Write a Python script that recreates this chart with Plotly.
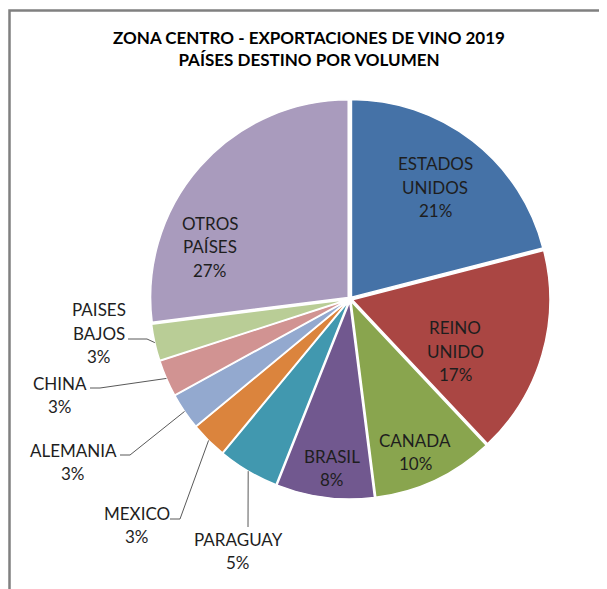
import math
import plotly.graph_objects as go

# ---------------- data ----------------
countries = ["ESTADOS UNIDOS", "REINO UNIDO", "CANADA", "BRASIL", "PARAGUAY",
             "MEXICO", "ALEMANIA", "CHINA", "PAISES BAJOS", "OTROS PAÍSES"]
label_lines = [["ESTADOS", "UNIDOS"], ["REINO", "UNIDO"], ["CANADA"], ["BRASIL"],
               ["PARAGUAY"], ["MEXICO"], ["ALEMANIA"], ["CHINA"],
               ["PAISES", "BAJOS"], ["OTROS", "PAÍSES"]]
shares = [21, 17, 10, 8, 5, 3, 3, 3, 3, 27]

# ---------------- style ----------------
colors = ["#4572A7", "#AA4643", "#89A54E", "#71588F", "#4198AF",
          "#DB843D", "#93A9CF", "#D19392", "#B9CD96", "#A99BBD"]
W, H = 607, 589
OFF = 8  # page body margin offset (screen px -> figure px)
PIE_BOX = (150, 99, 550, 499)  # screen px: left, top, right, bottom
PULL = 0.012

# label block centres (screen px) and leader elbows (screen px) - layout only
label_center = [(435, 187), (455, 351), (415, 452), (332, 468), (238, 551),
                (137, 525), (73, 462), (60, 395), (99, 333), (210, 247)]
leader_pts = {4: [(248, 527)],
              5: [(170, 519), (180, 519)],
              6: [(120, 455), (130, 455)],
              7: [(90, 388), (100, 388)],
              8: [(128, 339), (147, 339)]}
LINE_H = 23.5
LABEL_FONT = dict(family="Lato, 'Open Sans', sans-serif", size=17, color="#1e1e1e")


def px(x, y):
    return (x - OFF) / W, 1 - (y - OFF) / H


dx0, dy0 = px(PIE_BOX[0], PIE_BOX[3])
dx1, dy1 = px(PIE_BOX[2], PIE_BOX[1])

fig = go.Figure(go.Pie(
    labels=countries, values=shares, sort=False, direction="clockwise",
    rotation=0, marker=dict(colors=colors, line=dict(color="white", width=1.5)),
    pull=[PULL] * len(shares), textinfo="none", hoverinfo="label+percent",
    showlegend=False,
    domain=dict(x=[dx0, dx1], y=[dy0, dy1]),
))

annotations = []
shapes = []

# labels: one annotation per text line
total = sum(shares)
for i, (lines, v) in enumerate(zip(label_lines, shares)):
    texts = lines + [f"{round(100 * v / total)}%"]
    cx, cy = label_center[i]
    n = len(texts)
    for k, t in enumerate(texts):
        yk = cy + (k - (n - 1) / 2) * LINE_H
        xp, yp = px(cx, yk)
        annotations.append(dict(x=xp, y=yp, xref="paper", yref="paper", text=t,
                                showarrow=False, font=LABEL_FONT,
                                xanchor="center", yanchor="middle"))

# leader lines from slice edge (computed from data) to label
CX = (PIE_BOX[0] + PIE_BOX[2]) / 2
CY = (PIE_BOX[1] + PIE_BOX[3]) / 2
R = (PIE_BOX[2] - PIE_BOX[0]) / 2
cum = 0
for i, v in enumerate(shares):
    mid = (cum + v / 2) / total * 2 * math.pi
    cum += v
    if i not in leader_pts:
        continue
    ex, ey = CX + R * math.sin(mid), CY - R * math.cos(mid)
    pts = leader_pts[i] + [(ex, ey)]
    path = "M " + " L ".join(f"{px(x, y)[0]},{px(x, y)[1]}" for x, y in pts)
    shapes.append(dict(type="path", xref="paper", yref="paper", path=path,
                       line=dict(color="#595959", width=1)))

# chart area frame (cropped on right / bottom): top and left edges
fx0, fy1 = px(9.5, 10.5)
shapes.append(dict(type="path", xref="paper", yref="paper",
                   path=f"M {fx0},0 L {fx0},{fy1} L 1,{fy1}",
                   line=dict(color="#808080", width=2.5)))

tx, ty = px(309, 44)
fig.update_layout(
    width=W, height=H,
    margin=dict(l=0, r=0, t=0, b=0),
    paper_bgcolor="white", plot_bgcolor="white",
    title=dict(text="ZONA CENTRO - EXPORTACIONES DE VINO 2019<br>PAÍSES DESTINO POR VOLUMEN",
               x=tx, xanchor="center", y=ty, yanchor="middle",
               font=dict(family="Lato, 'Open Sans', sans-serif", size=17,
                         color="#000000", weight="bold")),
    annotations=annotations, shapes=shapes,
)

fig.write_html("out.html")
